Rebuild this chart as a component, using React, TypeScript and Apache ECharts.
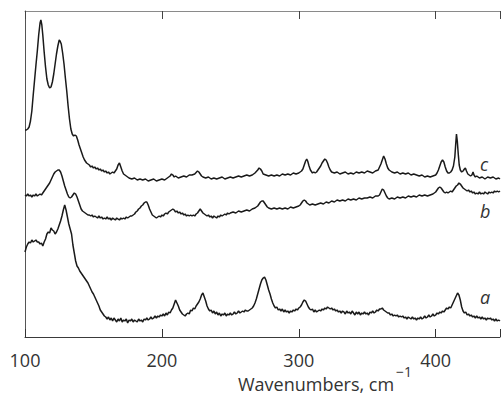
import React, { useEffect, useRef } from "react";
import * as echarts from "echarts";

const xTicks = [100, 200, 300, 400];
const xMin = 100;
const xMax = 447;

const seriesA: [number, number][] = [
  [100,85],[101,90],[102,93],[103,95],[104,94],[105,97],[106,95],[107,96],[108,97],[109,95],[110,95],[111,93],[112,94],[113,91],[114,95],[115,98],[116,103],[117,105],[118,104],[119,109],[120,107],[121,106],[122,103],[123,105],[124,108],[125,112],[126,116],[127,121],[128,127],[129,132],[130,127],[131,120],[132,113],[133,108],[134,103],[135,92],[136,84],[137,76],[138,71],[139,69],[140,66],[141,64],[142,62],[143,60],[144,58],[145,56],[146,54],[147,51],[148,48],[149,45],[150,43],[151,40],[152,37],[153,34],[154,31],[155,27],[156,25],[157,23],[158,21],[159,20],[160,18],[161,20],[162,17],[163,19],[164,16],[165,19],[166,17],[167,15],[168,18],[169,16],[170,19],[171,15],[172,17],[173,16],[174,18],[175,14],[176,17],[177,16],[178,18],[179,15],[180,17],[181,16],[182,15],[183,18],[184,16],[185,17],[186,15],[187,18],[188,17],[189,19],[190,17],[191,18],[192,20],[193,18],[194,19],[195,21],[196,19],[197,21],[198,20],[199,22],[200,21],[201,23],[202,21],[203,24],[204,22],[205,25],[206,24],[207,27],[208,29],[209,33],[210,37],[211,34],[212,31],[213,27],[214,25],[215,23],[216,22],[217,21],[218,23],[219,24],[220,23],[221,27],[222,26],[223,29],[224,28],[225,31],[226,33],[227,35],[228,38],[229,42],[230,44],[231,40],[232,36],[233,31],[234,28],[235,26],[236,27],[237,24],[238,26],[239,23],[240,25],[241,22],[242,24],[243,21],[244,23],[245,22],[246,24],[247,21],[248,23],[249,22],[250,24],[251,22],[252,23],[253,25],[254,23],[255,24],[256,26],[257,24],[258,25],[259,26],[260,25],[261,27],[262,26],[263,26],[264,27],[265,28],[266,29],[267,31],[268,34],[269,38],[270,43],[271,48],[272,53],[273,57],[274,59],[275,60],[276,57],[277,52],[278,47],[279,43],[280,38],[281,34],[282,31],[283,29],[284,30],[285,27],[286,28],[287,26],[288,28],[289,25],[290,27],[291,25],[292,26],[293,24],[294,26],[295,25],[296,27],[297,26],[298,28],[299,27],[300,29],[301,30],[302,32],[303,35],[304,37],[305,36],[306,33],[307,30],[308,28],[309,27],[310,28],[311,25],[312,27],[313,25],[314,26],[315,27],[316,26],[317,28],[318,27],[319,29],[320,28],[321,30],[322,29],[323,28],[324,29],[325,27],[326,28],[327,26],[328,27],[329,25],[330,26],[331,24],[332,26],[333,25],[334,23],[335,26],[336,24],[337,25],[338,23],[339,26],[340,24],[341,22],[342,25],[343,23],[344,25],[345,22],[346,24],[347,23],[348,25],[349,23],[350,24],[351,22],[352,25],[353,24],[354,26],[355,24],[356,25],[357,27],[358,26],[359,28],[360,28],[361,29],[362,27],[363,26],[364,25],[365,24],[366,24],[367,22],[368,23],[369,21],[370,22],[371,21],[372,22],[373,20],[374,21],[375,20],[376,21],[377,19],[378,20],[379,18],[380,20],[381,19],[382,18],[383,20],[384,18],[385,19],[386,17],[387,19],[388,18],[389,20],[390,18],[391,19],[392,21],[393,19],[394,20],[395,22],[396,20],[397,21],[398,23],[399,21],[400,22],[401,24],[402,23],[403,25],[404,24],[405,26],[406,25],[407,27],[408,29],[409,28],[410,30],[411,29],[412,32],[413,35],[414,38],[415,41],[416,44],[417,42],[418,37],[419,30],[420,26],[421,24],[422,25],[423,22],[424,23],[425,21],[426,22],[427,20],[428,21],[429,19],[430,21],[431,19],[432,20],[433,18],[434,20],[435,18],[436,19],[437,17],[438,19],[439,18],[440,19],[441,17],[442,18],[443,16],[444,18],[445,16],[446,17],[447,16]
];

const seriesB: [number, number][] = [
  [100,142],[101,141],[102,143],[103,141],[104,142],[105,140],[106,142],[107,141],[108,143],[109,141],[110,142],[111,143],[112,142],[113,144],[114,146],[115,148],[116,150],[117,152],[118,154],[119,157],[120,160],[121,163],[122,165],[123,166],[124,167],[125,167],[126,165],[127,161],[128,156],[129,151],[130,147],[131,143],[132,140],[133,139],[134,140],[135,142],[136,144],[137,143],[138,140],[139,136],[140,132],[141,128],[142,126],[143,125],[144,124],[145,123],[146,122],[147,122],[148,121],[149,122],[150,120],[151,121],[152,120],[153,119],[154,121],[155,119],[156,120],[157,118],[158,119],[159,118],[160,120],[161,118],[162,119],[163,117],[164,119],[165,118],[166,117],[167,119],[168,118],[169,117],[170,119],[171,118],[172,119],[173,118],[174,120],[175,119],[176,120],[177,121],[178,121],[179,122],[180,123],[181,125],[182,126],[183,128],[184,129],[185,131],[186,132],[187,134],[188,135],[189,135],[190,132],[191,128],[192,125],[193,122],[194,121],[195,120],[196,119],[197,120],[198,121],[199,120],[200,122],[201,121],[202,123],[203,124],[204,123],[205,125],[206,126],[207,127],[208,128],[209,127],[210,125],[211,126],[212,124],[213,125],[214,123],[215,124],[216,122],[217,123],[218,121],[219,122],[220,121],[221,122],[222,121],[223,122],[224,121],[225,123],[226,124],[227,126],[228,128],[229,126],[230,124],[231,123],[232,122],[233,121],[234,122],[235,120],[236,121],[237,119],[238,121],[239,120],[240,119],[241,121],[242,120],[243,122],[244,121],[245,122],[246,123],[247,122],[248,124],[249,123],[250,124],[252,125],[254,124],[256,126],[258,125],[260,126],[262,127],[264,126],[266,128],[268,129],[270,131],[271,133],[272,135],[273,136],[274,136],[275,134],[276,132],[277,130],[278,129],[280,128],[282,129],[284,128],[286,129],[288,128],[290,129],[292,128],[294,130],[296,129],[298,130],[300,131],[301,132],[302,134],[303,136],[304,137],[305,136],[306,134],[307,133],[308,132],[310,133],[312,132],[314,133],[316,134],[318,133],[320,135],[322,134],[324,136],[326,135],[328,137],[330,136],[332,137],[334,136],[336,138],[338,137],[340,138],[342,137],[344,139],[346,138],[348,139],[350,139],[352,140],[354,139],[356,141],[358,141],[359,142],[360,145],[361,148],[362,147],[363,144],[364,141],[365,139],[366,138],[368,139],[370,138],[372,140],[374,139],[376,140],[378,139],[380,141],[382,140],[384,141],[386,140],[388,142],[390,141],[392,142],[394,141],[396,142],[398,143],[399,144],[400,145],[401,147],[402,149],[403,150],[404,149],[405,147],[406,145],[407,144],[408,145],[409,144],[410,145],[411,146],[412,145],[413,147],[414,149],[415,151],[416,152],[417,154],[418,153],[419,151],[420,149],[421,148],[422,147],[423,146],[424,147],[425,145],[426,146],[427,144],[428,145],[429,143],[430,144],[431,143],[432,145],[433,143],[434,144],[435,143],[436,145],[437,144],[438,143],[439,145],[440,144],[441,145],[442,144],[443,146],[444,145],[445,146],[446,145],[447,146]
];

const seriesC: [number, number][] = [
  [100,207],[101,207],[102,208],[103,210],[104,216],[105,226],[106,242],[107,257],[108,272],[109,286],[110,302],[111,314],[111.6,317],[112.3,312],[113,302],[114,285],[115,270],[116,258],[117,252],[118,249],[119,250],[120,255],[121,263],[122,273],[123,283],[124,291],[125,297],[125.6,296],[126.5,293],[127.5,284],[128.5,273],[129.5,259],[130.5,246],[131.5,231],[132.5,218],[133.5,208],[134.5,203],[135.5,201],[136.5,202],[137.5,201],[138.5,197],[139.5,192],[140.5,188],[141.5,184],[142.5,180],[143.5,177],[145,174],[146,173],[147,172],[148,170],[149,171],[150,169],[151,170],[152,168],[153,169],[154,167],[155,168],[156,166],[157,167],[158,165],[159,166],[160,164],[161,165],[162,163],[163,164],[164,165],[165,164],[166,166],[167,168],[168,172],[169,174],[170,170],[171,166],[172,163],[173,162],[174,161],[175,160],[176,159],[178,158],[180,159],[182,157],[184,158],[186,157],[188,158],[190,156],[192,157],[194,158],[196,156],[198,157],[200,158],[202,157],[204,159],[206,161],[207,163],[208,162],[209,160],[210,161],[212,159],[214,160],[216,161],[218,160],[220,162],[222,162],[224,163],[226,166],[227,165],[228,163],[229,161],[230,160],[232,159],[234,160],[236,158],[238,159],[240,158],[242,159],[244,160],[246,158],[248,159],[250,160],[252,159],[254,160],[256,161],[258,160],[260,161],[262,162],[264,161],[266,162],[268,164],[270,167],[271,169],[272,168],[273,166],[274,163],[276,162],[278,161],[280,162],[282,161],[284,162],[286,161],[288,163],[290,162],[292,163],[294,162],[296,164],[298,163],[300,164],[302,166],[303,168],[304,172],[305,176],[305.8,178],[306.5,176],[307.5,171],[308.5,167],[310,164],[311,165],[312,164],[313,165],[314,167],[315,169],[316,171],[317,174],[318,176],[319,178],[320,177],[321,174],[322,170],[323,167],[324,165],[326,164],[328,165],[330,163],[332,164],[334,165],[336,163],[338,164],[340,163],[342,165],[344,164],[346,165],[348,164],[350,166],[352,165],[354,164],[356,166],[358,167],[359,170],[360,173],[361,177],[362,181],[363,178],[364,173],[365,169],[366,167],[368,165],[370,164],[372,165],[374,163],[376,164],[378,163],[380,164],[382,162],[384,163],[386,162],[388,161],[390,162],[392,160],[394,161],[396,160],[398,161],[400,162],[401,164],[402,167],[403,171],[404,175],[405,177],[406,175],[407,170],[408,166],[409,164],[410,164],[411,165],[412,167],[413,171],[414,180],[414.6,192],[415.2,203],[415.8,196],[416.5,183],[417.2,172],[418,167],[419,165],[420,166],[421,168],[421.7,169],[422.5,166],[423.5,163],[424.5,162],[425.5,161],[426.5,162],[427.3,165],[428,162],[429,160],[430,161],[432,159],[434,160],[436,158],[438,160],[440,159],[442,160],[444,158],[446,159],[447,158]
];

const seriesLabels = ["a", "b", "c"];
const axisTitle = "Wavenumbers, cm";
const axisTitleSup = "\u22121";

const FONT = "'Open Sans', 'Noto Sans', sans-serif";
const LINE = "#1a1a1a";

export default function App() {
  const ref = useRef<HTMLDivElement>(null);
  useEffect(() => {
    if (!ref.current) return;
    const chart = echarts.init(ref.current, null, { renderer: "svg" });
    const mkSeries = (data: [number, number][]) => ({
      type: "line",
      data,
      showSymbol: false,
      symbol: "none",
      lineStyle: { color: LINE, width: 1.5 },
      silent: true,
    });
    chart.setOption({
      animation: false,
      backgroundColor: "#ffffff",
      grid: { left: 25, right: 0, top: 11, bottom: 58 },
      xAxis: [
        {
          type: "value",
          min: xMin,
          max: xMax,
          interval: 100,
          position: "bottom",
          axisLine: { show: true, lineStyle: { color: "#3a3a3a", width: 1 } },
          axisTick: { show: true, inside: true, length: 8, lineStyle: { color: "#333", width: 1 } },
          axisLabel: {
            show: true,
            margin: 14,
            color: "#333",
            fontFamily: FONT,
            fontSize: 18,
            formatter: (v: number) => (xTicks.includes(v) ? String(v) : ""),
          },
          splitLine: { show: false },
        },
        {
          type: "value",
          min: xMin,
          max: xMax,
          interval: 100,
          position: "top",
          axisLine: { show: true, onZero: false, lineStyle: { color: "#8a8a8a", width: 1 } },
          axisTick: { show: true, inside: true, length: 8, lineStyle: { color: "#444", width: 1 } },
          axisLabel: { show: false },
          splitLine: { show: false },
        },
      ],
      yAxis: {
        type: "value",
        min: 0,
        max: 326,
        axisLine: { show: true, onZero: false, lineStyle: { color: "#555", width: 1 } },
        axisTick: { show: false },
        axisLabel: { show: false },
        splitLine: { show: false },
      },
      series: [mkSeries(seriesA), mkSeries(seriesB), mkSeries(seriesC)],
      graphic: [
        {
          type: "text",
          left: 238,
          top: 375,
          style: { text: axisTitle, font: `18px ${FONT}`, fill: "#333" },
        },
        {
          type: "text",
          left: 396,
          top: 364,
          style: { text: axisTitleSup, font: `14px ${FONT}`, fill: "#333" },
        },
        {
          type: "text",
          left: 480,
          top: 288,
          style: { text: seriesLabels[0], font: `italic 18px ${FONT}`, fill: "#333" },
        },
        {
          type: "text",
          left: 480,
          top: 202,
          style: { text: seriesLabels[1], font: `italic 18px ${FONT}`, fill: "#333" },
        },
        {
          type: "text",
          left: 480,
          top: 155,
          style: { text: seriesLabels[2], font: `italic 18px ${FONT}`, fill: "#333" },
        },
      ],
    });
    return () => chart.dispose();
  }, []);
  return (
    <div
      ref={ref}
      style={{ position: "fixed", left: 0, top: 0, width: 503, height: 395, background: "#fff" }}
    />
  );
}
